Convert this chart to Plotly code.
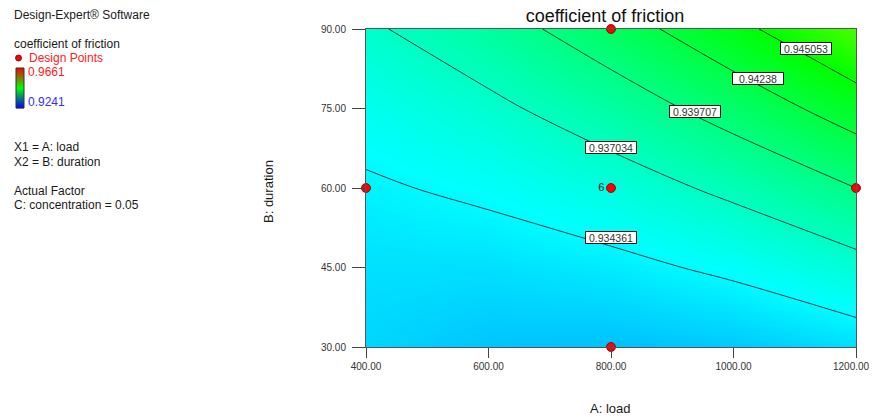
import plotly.graph_objects as go

# ---------------- data ----------------
load_vals = [400, 600, 800, 1000, 1200]          # A: load
duration_vals = [30, 45, 60, 75, 90]              # B: duration
# coefficient of friction (rows = duration, cols = load)
cof_grid = [
    [0.932922, 0.932198, 0.932011, 0.932360, 0.933247],
    [0.933336, 0.933317, 0.933795, 0.934771, 0.936243],
    [0.934101, 0.934756, 0.935908, 0.937559, 0.939707],
    [0.935216, 0.936515, 0.938351, 0.940725, 0.943637],
    [0.936680, 0.938592, 0.941121, 0.944268, 0.948033],
]
contour_levels = [0.934361, 0.937034, 0.939707, 0.94238, 0.945053]
label_load = [800, 800, 937, 1040, 1118]
label_duration = [50.6, 67.7, 74.5, 80.6, 86.4]

design_load = [400, 1200, 800, 800, 800]
design_duration = [60, 60, 30, 90, 60]
design_text = ["", "", "", "", "6"]

x_ticks = [400, 600, 800, 1000, 1200]
y_ticks = [30, 45, 60, 75, 90]
cof_min, cof_max = 0.9241, 0.9661

# ---------------- layout helpers ----------------
W, H = 872, 417
L, R, T, B = 366, 16, 29, 70
PW, PH = W - L - R, H - T - B
FONT = "Arial, Liberation Sans, sans-serif"


def px(x):
    return (x - L) / PW


def py(y):
    return (H - B - y) / PH


fig = go.Figure()

fig.add_trace(go.Heatmap(
    x=load_vals, y=duration_vals, z=cof_grid, zsmooth="best",
    zmin=cof_min, zmax=cof_max, showscale=False, hoverinfo="skip",
    colorscale=[[0, "#0000ff"], [0.25, "#00ffff"], [0.5, "#00ff00"],
                [0.75, "#ffff00"], [1, "#ff0000"]],
))

fig.add_trace(go.Contour(
    x=load_vals, y=duration_vals, z=cof_grid, showscale=False,
    hoverinfo="skip",
    contours=dict(coloring="none", start=contour_levels[0],
                  end=contour_levels[-1] + 0.00005,
                  size=round(contour_levels[1] - contour_levels[0], 6)),
    line=dict(color="#111111", width=0.8),
))

fig.add_trace(go.Scatter(
    x=design_load, y=design_duration, mode="markers+text", text=design_text,
    textposition="middle left", cliponaxis=False, showlegend=False,
    textfont=dict(family=FONT, size=11, color="#111111"),
    marker=dict(size=9, color="#ff0000", line=dict(color="#7a0000", width=0.8)),
    hoverinfo="skip",
))

annotations = []
for lx, ly, lv in zip(label_load, label_duration, contour_levels):
    annotations.append(dict(
        x=lx, y=ly, xref="x", yref="y", text=f"{lv:g}", showarrow=False,
        font=dict(family=FONT, size=10.5, color="#333333"),
        bgcolor="white", bordercolor="#111111", borderwidth=1, borderpad=0,
        width=50, height=11,
    ))

left_texts = [
    ("Design-Expert® Software", 15, "#1a1a1a", 13),
    ("coefficient of friction", 44, "#1a1a1a", 13),
    ("Design Points", 58, "#ff2020", 28),
    ("0.9661", 72, "#ff2020", 27),
    ("0.9241", 102, "#3030ff", 27),
    ("X1 = A: load", 147, "#1a1a1a", 13),
    ("X2 = B: duration", 162, "#1a1a1a", 13),
    ("Actual Factor", 191, "#1a1a1a", 13),
    ("C: concentration = 0.05", 205, "#1a1a1a", 13),
]
for txt, yc, col, xl in left_texts:
    annotations.append(dict(
        x=px(xl - 1), y=py(yc), xref="paper", yref="paper", text=txt,
        showarrow=False, xanchor="left", yanchor="middle",
        font=dict(family=FONT, size=12, color=col),
    ))

annotations.append(dict(
    x=px(610), y=py(408), xref="paper", yref="paper", text="A: load",
    showarrow=False, xanchor="center", yanchor="middle",
    font=dict(family=FONT, size=13, color="#1a1a1a"),
))
annotations.append(dict(
    x=px(268), y=py(192), xref="paper", yref="paper", text="B: duration",
    showarrow=False, textangle=-90, xanchor="center", yanchor="middle",
    font=dict(family=FONT, size=13, color="#1a1a1a"),
))

# last x tick label kept inside the page (it sits on the right edge)
x_ticktext = [f"{v:.2f}" for v in x_ticks[:-1]] + [""]
annotations.append(dict(
    x=px(871), y=py(366), xref="paper", yref="paper",
    text=f"{x_ticks[-1]:.2f}", showarrow=False, xanchor="right",
    yanchor="middle", borderpad=0,
    font=dict(family=FONT, size=10, color="#333333"),
))

shapes = []
# small legend gradient bar (red -> green -> blue)
top, bot, n = 68, 108, 40
for i in range(n):
    t = (i + 0.5) / n
    if t < 0.5:
        f = t / 0.5
        r, g, b = 255 * (1 - f), 255 * f, 0
    else:
        f = (t - 0.5) / 0.5
        r, g, b = 0, 255 * (1 - f), 255 * f
    y0 = top + (bot - top) * i / n
    y1 = top + (bot - top) * (i + 1) / n
    shapes.append(dict(type="rect", xref="paper", yref="paper",
                       x0=px(16), x1=px(24), y0=py(y0), y1=py(y1 + 0.3),
                       line=dict(width=0),
                       fillcolor=f"rgb({int(r)},{int(g)},{int(b)})"))
shapes.append(dict(type="rect", xref="paper", yref="paper",
                   x0=px(16), x1=px(24), y0=py(top), y1=py(bot),
                   line=dict(color="#333333", width=1)))
# design point marker in legend
shapes.append(dict(type="circle", xref="paper", yref="paper",
                   x0=px(15.5), x1=px(21.5), y0=py(55), y1=py(61),
                   fillcolor="#ff0000", line=dict(color="#7a0000", width=0.8)))

fig.update_layout(
    width=W, height=H, margin=dict(l=L, r=R, t=T, b=B, autoexpand=False),
    paper_bgcolor="white", plot_bgcolor="white", showlegend=False,
    font=dict(family=FONT, color="#333333"),
    title=dict(text="coefficient of friction", x=px(605), xref="paper",
               xanchor="center", y=1 - 16 / H, yref="container",
               yanchor="middle", automargin=False,
               font=dict(family=FONT, size=18, color="#111111")),
    xaxis=dict(range=[400, 1200], tickvals=x_ticks, ticktext=x_ticktext,
               ticks="outside", ticklen=10, tickcolor="#444444",
               automargin=False,
               showline=True, linecolor="#555555", linewidth=1, mirror=True,
               showgrid=False, zeroline=False,
               tickfont=dict(family=FONT, size=10, color="#333333")),
    yaxis=dict(range=[30, 90], tickvals=y_ticks, tickformat=".2f",
               ticks="outside", ticklen=13, tickcolor="#444444",
               ticklabelstandoff=4, automargin=False,
               showline=True, linecolor="#555555", linewidth=1, mirror=True,
               showgrid=False, zeroline=False,
               tickfont=dict(family=FONT, size=10, color="#333333")),
    annotations=annotations, shapes=shapes,
)

fig.write_html("out.html")
